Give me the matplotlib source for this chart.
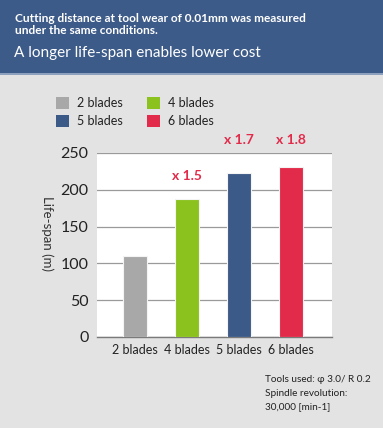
import matplotlib
matplotlib.use("Agg")
import matplotlib.pyplot as plt
from matplotlib.patches import Rectangle

plt.rcParams['font.family'] = ['Lato', 'DejaVu Sans']

categories = ["2 blades", "4 blades", "5 blades", "6 blades"]
values = [110, 188, 223, 231]
colors = ["#a8a8a8", "#8cc21e", "#3c5a88", "#e22b4a"]
ratio_labels = ["", "x 1.5", "x 1.7", "x 1.8"]
yticks = [0, 50, 100, 150, 200, 250]
notes = ["Tools used: \u03c6 3.0/ R 0.2", "Spindle revolution:", "30,000 [min-1]"]

W, H = 383, 428
fig = plt.figure(figsize=(W / 100, H / 100), dpi=100)
fig.patch.set_facecolor("#e3e3e3")

def fx(px):
    return px / W

def fy(py):
    return 1 - py / H

# header band
fig.patches.append(Rectangle((0, fy(73)), 1, 73 / H, transform=fig.transFigure,
                             facecolor="#3d5b88", edgecolor="none", zorder=0))
fig.patches.append(Rectangle((0, fy(74.5)), 1, 1.5 / H, transform=fig.transFigure,
                             facecolor="#8da0bd", edgecolor="none", zorder=0))
fig.text(fx(15), fy(18), "Cutting distance at tool wear of 0.01mm was measured",
         color="white", fontsize=8.6, fontweight="bold", va="center", ha="left")
fig.text(fx(15), fy(31), "under the same conditions.",
         color="white", fontsize=8.6, fontweight="bold", va="center", ha="left")
fig.text(fx(14), fy(53), "A longer life-span enables lower cost",
         color="white", fontsize=11, va="center", ha="left")

# axes
left, right, top, bottom = 97, 332, 153, 337
ax = fig.add_axes([fx(left), fy(bottom), (right - left) / W, (bottom - top) / H])
ax.set_facecolor("white")
x = list(range(len(categories)))
ax.bar(x, values, width=0.45, color=colors, edgecolor="#f4f4f4", linewidth=0.8, zorder=3)
ax.set_xlim(-0.73, 3.79)
ax.set_ylim(0, 250)
ax.set_yticks(yticks)
ax.set_yticklabels([str(t) for t in yticks], fontsize=11.5, color="#222222")
ax.set_xticks(x)
ax.set_xticklabels(categories, fontsize=9, color="#222222")
ax.tick_params(axis="y", length=0, pad=6)
ax.tick_params(axis="x", length=0, pad=5)
ax.grid(axis="y", color="#9a9a9a", linewidth=0.9, zorder=1)
for s in ["top", "right", "left"]:
    ax.spines[s].set_visible(False)
ax.spines["bottom"].set_color("#7a7a7a")
ax.spines["bottom"].set_linewidth(1.0)
ax.set_ylabel("Life-span (m)", rotation=270, fontsize=9.5, color="#333333", labelpad=0,
              va="center")
ax.yaxis.set_label_coords((47 - left) / (right - left), (bottom - 234) / (bottom - top))

# ratio labels
ratio_pos = [None, (187, 176), (239, 140), (291, 140)]
for lab, pos in zip(ratio_labels, ratio_pos):
    if lab:
        fig.text(fx(pos[0]), fy(pos[1]), lab, color="#e22b4a", fontsize=10,
                 fontweight="bold", ha="center", va="center")

# legend
leg_items = [(0, 56, 97), (1, 147, 97), (2, 56, 115), (3, 147, 115)]
for i, lx, ly in leg_items:
    fig.patches.append(Rectangle((fx(lx), fy(ly + 12)), 13 / W, 12 / H,
                                 transform=fig.transFigure, facecolor=colors[i],
                                 edgecolor="none"))
    fig.text(fx(lx + 21), fy(ly + 6), categories[i], fontsize=9, color="#222222",
             ha="left", va="center")

# notes
for i, n in enumerate(notes):
    fig.text(fx(265), fy(380 + i * 13.5), n, fontsize=7.2, color="#222222",
             ha="left", va="center")

fig.savefig("out.png", dpi=100, facecolor=fig.get_facecolor())
